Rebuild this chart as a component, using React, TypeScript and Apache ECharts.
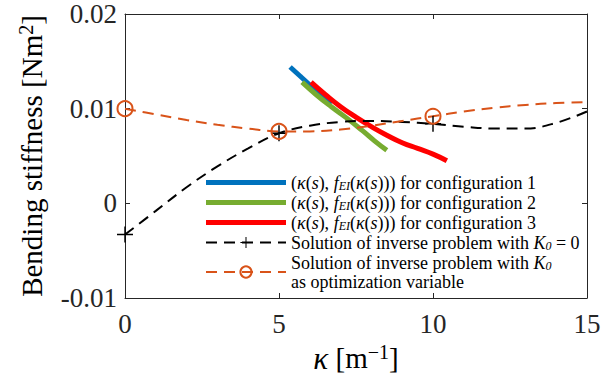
import React, { useEffect, useRef } from "react";
import * as echarts from "echarts";

const kappaGrid = [0, 1, 2, 3, 4, 5, 6, 7, 8, 9, 10, 11, 12, 13, 14, 15];
const blackValues = [-0.0033, -0.0008, 0.0017, 0.0039, 0.0058, 0.0074, 0.0082, 0.0086, 0.0087, 0.0086, 0.0084, 0.0081, 0.0079, 0.0079, 0.0085, 0.0097];
const orangeValues = [0.01, 0.0094, 0.0088, 0.0083, 0.0079, 0.0076, 0.0076, 0.0078, 0.0082, 0.0087, 0.0092, 0.0097, 0.0101, 0.0104, 0.0106, 0.0107];
const markerKappas = [0, 5, 10];

const config1Kappa = [5.36, 5.7, 6.0, 6.3, 6.7];
const config1Stiff = [0.0144, 0.0134, 0.0125, 0.0116, 0.0105];
const config2Kappa = [5.75, 6.2, 6.7, 7.2, 7.7, 8.1, 8.5];
const config2Stiff = [0.0128, 0.0115, 0.0102, 0.009, 0.0077, 0.0066, 0.0056];
const config3Kappa = [6.04, 6.5, 7.0, 7.5, 8.0, 8.5, 9.0, 9.5, 10.0, 10.45];
const config3Stiff = [0.0128, 0.0115, 0.0102, 0.0091, 0.0081, 0.0072, 0.0064, 0.0058, 0.0052, 0.0045];

const FONT = "Liberation Serif";

const curveName = (n: number) =>
  `{r|(}{i|κ}{r|(}{i|s}{r|),} {i|f}{sub|EI}{r|(}{i|κ}{r|(}{i|s}{r|))) for configuration ${n}}`;

const PLUS =
  "path://M-1,-0.09H-0.09V-1H0.09V-0.09H1V0.09H0.09V1H-0.09V0.09H-1Z";
const BAND =
  "path://M0,0H0.01V0.01H0Z M0,4.5H80V9.5H0Z M79.99,13.99H80V14H79.99Z";

const AX = "#262626";
const LEG_FS = 18;
const LEG_LH = 19;

export default function App() {
  const ref = useRef<HTMLDivElement>(null);
  useEffect(() => {
    if (!ref.current) return;
    const chart = echarts.init(ref.current, undefined, { renderer: "svg" });
    const pairs = (xs: number[], ys: number[]) => xs.map((x, i) => [x, ys[i]]);
    const marked = (ys: number[]) =>
      kappaGrid.map((x, i) =>
        markerKappas.includes(x)
          ? { value: [x, ys[i]] }
          : { value: [x, ys[i]], symbol: "none" }
      );
    const name1 = curveName(1);
    const name2 = curveName(2);
    const name3 = curveName(3);
    const name4 = "{r|Solution of inverse problem with }{i|K}{sub|0}{r| = 0}";
    const name5 = "{r|Solution of inverse problem with }{i|K}{sub|0}\n{r|as optimization variable}";
    const tick = { show: true, inside: true, length: 5, lineStyle: { color: AX, width: 1 } };
    const line = { show: true, onZero: false, lineStyle: { color: AX, width: 1 } };
    chart.setOption({
      animation: false,
      backgroundColor: "#ffffff",
      textStyle: { fontFamily: FONT },
      grid: { left: 125, right: 25, top: 14, bottom: 85 },
      xAxis: [
        {
          type: "value",
          min: 0,
          max: 15,
          interval: 5,
          name: "{i|κ} [m{sup|−1}]",
          nameLocation: "middle",
          nameGap: 44,
          nameTextStyle: {
            fontFamily: FONT,
            fontSize: 29,
            lineHeight: 32,
            color: "#000",
            rich: {
              i: { fontStyle: "italic", fontFamily: FONT, fontSize: 31, lineHeight: 32 },
              sup: { fontFamily: FONT, fontSize: 20, lineHeight: 32, verticalAlign: "top" },
            },
          },
          axisLine: line,
          axisTick: tick,
          axisLabel: { fontFamily: FONT, fontSize: 27, color: AX, margin: 12 },
          splitLine: { show: false },
        },
        {
          type: "value",
          position: "top",
          min: 0,
          max: 15,
          interval: 5,
          axisLine: line,
          axisTick: tick,
          axisLabel: { show: false },
          splitLine: { show: false },
        },
      ],
      yAxis: [
        {
          type: "value",
          min: -0.01,
          max: 0.02,
          interval: 0.01,
          name: "Bending stiffness [Nm{sup|2}]",
          nameLocation: "middle",
          nameGap: 77,
          nameTextStyle: {
            fontFamily: FONT,
            fontSize: 29,
            lineHeight: 32,
            color: "#000",
            rich: {
              sup: { fontFamily: FONT, fontSize: 20, lineHeight: 32, verticalAlign: "top" },
            },
          },
          axisLine: line,
          axisTick: tick,
          axisLabel: {
            fontFamily: FONT,
            fontSize: 27,
            color: AX,
            margin: 8,
            formatter: (v: number) => (Math.abs(v) < 1e-9 ? "0" : v.toFixed(2)),
          },
          splitLine: { show: false },
        },
        {
          type: "value",
          position: "right",
          min: -0.01,
          max: 0.02,
          interval: 0.01,
          axisLine: line,
          axisTick: tick,
          axisLabel: { show: false },
          splitLine: { show: false },
        },
      ],
      legend: {
        orient: "vertical",
        left: 200,
        top: 168,
        itemWidth: 80,
        itemHeight: 14,
        itemGap: 1,
        textStyle: {
          fontFamily: FONT,
          fontSize: LEG_FS,
          lineHeight: LEG_LH,
          color: "#000",
          rich: {
            r: { fontFamily: FONT, fontSize: LEG_FS, lineHeight: LEG_LH, color: "#000" },
            i: { fontStyle: "italic", fontFamily: FONT, fontSize: LEG_FS, lineHeight: LEG_LH, color: "#000" },
            sub: { fontStyle: "italic", fontFamily: FONT, fontSize: 12, lineHeight: LEG_LH, verticalAlign: "bottom", color: "#000" },
          },
        },
        data: [
          { name: name1, icon: BAND },
          { name: name2, icon: BAND },
          { name: name3, icon: BAND },
          name4,
          name5,
        ],
      },
      series: [
        {
          name: name1,
          type: "line",
          data: pairs(config1Kappa, config1Stiff),
          smooth: true,
          symbol: "none",
          lineStyle: { color: "#0072BD", width: 5 },
          itemStyle: { color: "#0072BD" },
        },
        {
          name: name2,
          type: "line",
          data: pairs(config2Kappa, config2Stiff),
          smooth: true,
          symbol: "none",
          lineStyle: { color: "#77AC30", width: 5 },
          itemStyle: { color: "#77AC30" },
        },
        {
          name: name3,
          type: "line",
          data: pairs(config3Kappa, config3Stiff),
          smooth: true,
          symbol: "none",
          lineStyle: { color: "#FF0000", width: 5 },
          itemStyle: { color: "#FF0000" },
        },
        {
          name: name4,
          type: "line",
          data: marked(blackValues),
          smooth: 0.4,
          symbol: PLUS,
          symbolSize: 16,
          showAllSymbol: true,
          lineStyle: { color: "#000", width: 2, type: [11, 7] },
          itemStyle: { color: "#000" },
        },
        {
          name: name5,
          type: "line",
          data: marked(orangeValues),
          smooth: 0.4,
          symbol: "circle",
          symbolSize: 15,
          showAllSymbol: true,
          lineStyle: { color: "#D95319", width: 2, type: [11, 7] },
          itemStyle: { color: "rgba(255,255,255,0)", borderColor: "#D95319", borderWidth: 2 },
        },
      ],
    });
    return () => chart.dispose();
  }, []);
  return (
    <div
      ref={ref}
      style={{ position: "fixed", left: 0, top: 0, width: 612, height: 383 }}
    />
  );
}
